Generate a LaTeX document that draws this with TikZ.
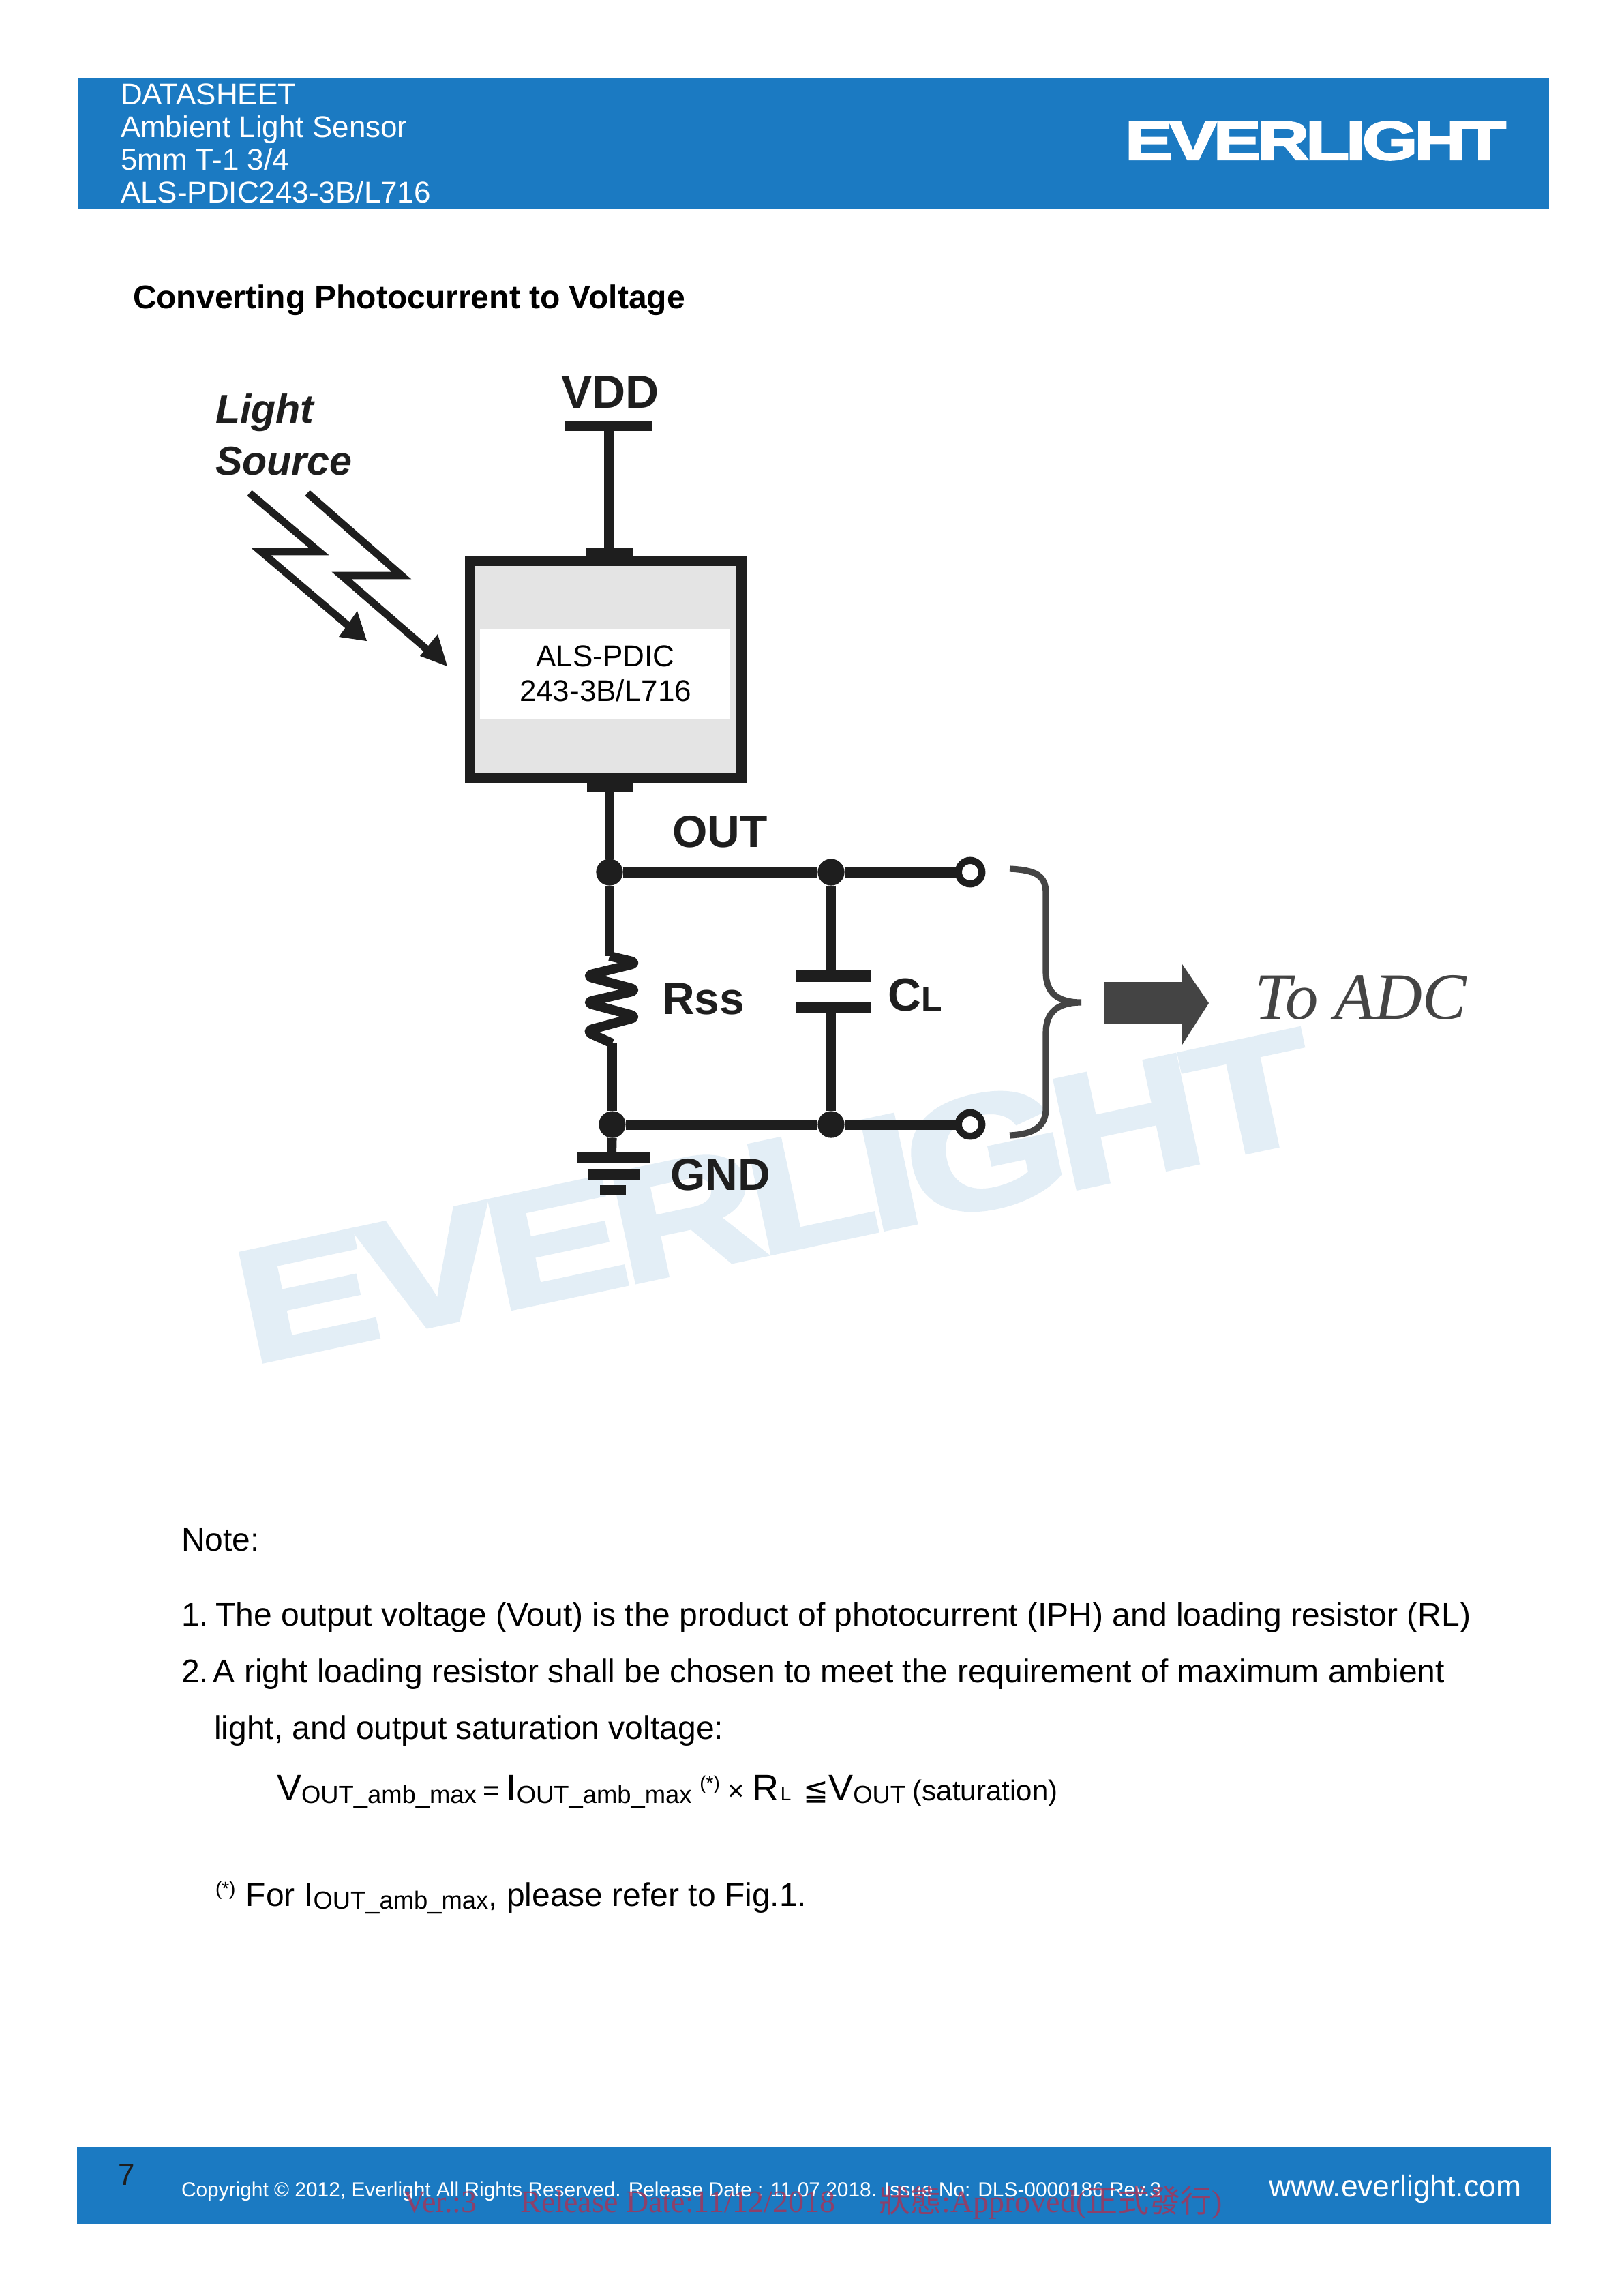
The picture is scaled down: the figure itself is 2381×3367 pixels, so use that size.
\documentclass[tikz,border=0pt]{standalone}
\usepackage{fontspec}
\usepackage{tikz}
\setmainfont{Liberation Sans}
\newfontfamily\timesfont{Liberation Serif}
\newfontfamily\symbfont{DejaVu Sans}
\newfontfamily\cjkfont{Noto Sans CJK TC}
\newfontfamily\logofont[BoldFeatures={FakeBold=2.5,LetterSpace=-5}]{Liberation Sans}
\usetikzlibrary{positioning}
\definecolor{bandblue}{RGB}{27,122,194}
\definecolor{markblue}{RGB}{227,238,246}
\definecolor{chipgray}{RGB}{228,228,228}
\definecolor{inkblack}{RGB}{30,30,30}
\definecolor{arrowgray}{RGB}{68,68,68}
\definecolor{stampred}{RGB}{170,50,85}
\newcommand{\subtxt}[1]{{\fontsize{9.1}{9}\selectfont\raisebox{-1pt}{#1}}}
\newcommand{\bigtxt}[1]{{\fontsize{13.5}{13.5}\selectfont #1}}
\tikzset{
  every node/.style={inner sep=0pt, outer sep=0pt, anchor=base west, text=black},
  wire/.style={draw=inkblack, line width=3.5pt},
  rail/.style={draw=inkblack, line width=3.75pt},
  ray/.style={draw=inkblack, line width=2.7pt, miter limit=10},
  bar/.style={fill=inkblack},
  junction/.style={circle, fill=inkblack, minimum size=9.8pt, anchor=center},
  terminal/.style={circle, draw=inkblack, fill=white, line width=2.6pt, minimum size=8.6pt, anchor=center},
  boldlabel/.style={font=\bfseries\fontsize{17}{17}\selectfont, text=inkblack},
  smalllabel/.style={font=\bfseries\fontsize{16.5}{17}\selectfont, text=inkblack},
  notetext/.style={font=\fontsize{12}{12}\selectfont}
}
\begin{document}
\begin{tikzpicture}[x=0.25pt,y=-0.25pt]
  \useasboundingbox (0,0) rectangle (2381,3367);
  \fill[white] (0,0) rectangle (2381,3367);

  % watermark
  \node[anchor=center, rotate=12, text=markblue] (wmark) at (1138,1754)
    {\resizebox{402pt}{41pt}{\logofont\bfseries EVERLIGHT}};

  % header
  \fill[bandblue] (115,114) rectangle (2272,307);
  \node[text=white, font=\fontsize{11}{11}\selectfont] (head1) at (177,153) {DATASHEET};
  \node[text=white, font=\fontsize{11}{11}\selectfont] (head2) at (177,201) {Ambient Light Sensor};
  \node[text=white, font=\fontsize{11}{11}\selectfont] (head3) at (177,249) {5mm T-1 3/4};
  \node[text=white, font=\fontsize{11}{11}\selectfont] (head4) at (177,297) {ALS-PDIC243-3B/L716};
  \node[text=white] (logo) at (1650,234)
    {\resizebox{139.75pt}{14pt}{\logofont\bfseries EVERLIGHT}};
  \node[font=\bfseries\fontsize{12}{12}\selectfont] (title) at (195,452) {Converting Photocurrent to Voltage};

  % light source
  \node[text=inkblack, font=\bfseries\itshape\fontsize{14.8}{15}\selectfont] (light) at (316,620) {Light};
  \node[text=inkblack, font=\bfseries\itshape\fontsize{14.8}{15}\selectfont] (source) at (316,696) {Source};
  \draw[ray] (366,723) -- (468,809) -- (383,809) -- (510,917);
  \fill[inkblack] (538,940) -- (497,934) -- (524,896) -- cycle;
  \draw[ray] (451,723) -- (589,844) -- (501,844) -- (628,954);
  \fill[inkblack] (656,977) -- (616,962) -- (642,930) -- cycle;

  % chip and supply
  \node[boldlabel] (vdd) at (823,598) {VDD};
  \fill[inkblack] (828,617) rectangle (957,632);
  \coordinate (vddpin) at (893,625);
  \node[draw=inkblack, line width=3.75pt, fill=chipgray, minimum width=99.5pt, minimum height=79.5pt, anchor=center] (chip) at (888.5,981.5) {};
  \fill[white] (704,922) rectangle (1071,1054);
  \node[anchor=base, font=\fontsize{11}{11}\selectfont] (chipa) at (888,977) {ALS-PDIC};
  \node[anchor=base, font=\fontsize{11}{11}\selectfont] (chipb) at (888,1028) {243-3B/L716};
  \fill[inkblack] (860,803) rectangle (928,815);
  \fill[inkblack] (861,1148) rectangle (928,1161);
  \coordinate (chiptop) at (893,810);
  \coordinate (chipbot) at (894,1155);
  \draw[wire] (vddpin) -- (chiptop);

  % output rail
  \node[junction] (jtop) at (894,1279) {};
  \node[junction] (jcap) at (1219,1279) {};
  \node[terminal] (ttop) at (1423,1279) {};
  \node[junction] (jbot) at (898,1649) {};
  \node[junction] (jcapb) at (1219,1649) {};
  \node[terminal] (tbot) at (1423,1649) {};
  \node[smalllabel] (out) at (986,1242) {OUT};
  \draw[wire] (chipbot) -- (jtop);
  \draw[rail] (jtop) -- (jcap) -- (ttop);
  \draw[rail] (jbot) -- (jcapb) -- (tbot);

  % resistor
  \coordinate (ra) at (894,1402);
  \coordinate (rb) at (898,1530);
  \draw[wire] (jtop) -- (ra);
  \draw[wire, line join=round, rounded corners=3pt] (ra) -- (936,1412) -- (858,1431) -- (936,1452) -- (858,1470) -- (936,1491) -- (858,1512) -- (rb);
  \draw[wire] (rb) -- (jbot);
  \node[smalllabel] (rss) at (971,1487) {Rss};

  % capacitor
  \fill[inkblack] (1167,1422) rectangle (1277,1440);
  \fill[inkblack] (1167,1470) rectangle (1277,1486);
  \coordinate (capa) at (1219,1431);
  \coordinate (capb) at (1219,1478);
  \draw[wire] (jcap) -- (capa);
  \draw[wire] (capb) -- (jcapb);
  \node[boldlabel] (cl) at (1302,1482) {C{\fontsize{12.5}{12}\selectfont L}};

  % ground
  \coordinate (gnd) at (897,1695);
  \draw[wire] (jbot) -- (gnd);
  \fill[inkblack] (847,1689) rectangle (954,1705);
  \fill[inkblack] (863,1714) rectangle (938,1731);
  \fill[inkblack] (880,1738) rectangle (918,1752);
  \node[smalllabel] (gndlabel) at (983,1745) {GND};

  % brace, arrow, label
  \draw[arrowgray, line width=2.3pt] (1481,1274) .. controls (1520,1276) and (1534,1284) .. (1534,1310)
    -- (1534,1425) .. controls (1534,1455) and (1550,1470) .. (1586,1470)
    .. controls (1550,1470) and (1534,1485) .. (1534,1515)
    -- (1534,1625) .. controls (1534,1650) and (1520,1663) .. (1481,1665);
  \fill[arrowgray] (1619,1440) -- (1734,1440) -- (1734,1414) -- (1773,1471) -- (1734,1532) -- (1734,1501) -- (1619,1501) -- cycle;
  \node[text=arrowgray, font=\timesfont\itshape\fontsize{24.2}{24}\selectfont] (adc) at (1840,1494) {To ADC};

  % notes
  \node[notetext] (note) at (266,2274) {Note:};
  \node[notetext] (noteone) at (266,2384) {1.\kern-.7pt\ The output voltage (Vout) is the product of photocurrent (IPH) and loading resistor (RL)};
  \node[notetext] (notetwo) at (266,2467) {2.\kern-1.6pt\ A right loading resistor shall be chosen to meet the requirement of maximum ambient};
  \node[notetext] (notetwob) at (314,2550) {light, and output saturation voltage:};
  \node[font=\fontsize{10.5}{10}\selectfont] (formula) at (406,2640)
    {\bigtxt{V}\subtxt{OUT\_amb\_max}\kern-.5pt\ =\kern-.5pt\ \bigtxt{I}\subtxt{OUT\_amb\_max}\
     \raisebox{4pt}{\fontsize{7}{7}\selectfont(*)}\ ×\ \bigtxt{R}\kern.5pt{\fontsize{7}{7}\selectfont L}\kern1.6pt\
     {\symbfont\fontsize{11}{11}\selectfont ≦}\bigtxt{V}\subtxt{OUT}\kern-.2pt\ (saturation)};
  \node[notetext] (foot) at (316,2795)
    {\raisebox{4pt}{\fontsize{7}{7}\selectfont(*)}\kern.5pt\ For I\subtxt{OUT\_amb\_max}, please refer to Fig.1.};

  % footer
  \fill[bandblue] (113,3148) rectangle (2275,3262);
  \node[text=inkblack, font=\fontsize{11}{11}\selectfont] (pageno) at (173,3204) {7};
  \node[text=white, font=\fontsize{7.47}{7.5}\selectfont] (copyr) at (266,3221) {Copyright © 2012, Everlight All Rights Reserved. Release Date : 11.07.2018. Issue No: DLS-0000186 Rev.3};
  \node[text=white, font=\fontsize{11.1}{11}\selectfont] (web) at (1861,3221) {www.everlight.com};
  \node[text=stampred, opacity=.8, font=\timesfont\fontsize{11.5}{11.5}\selectfont] (stamp) at (591,3244)
    {Ver.:3\hspace{16pt}Release Date:11/12/2018\hspace{16pt}{\cjkfont 狀態}:Approved({\cjkfont 正式發行})};
\end{tikzpicture}
\end{document}
